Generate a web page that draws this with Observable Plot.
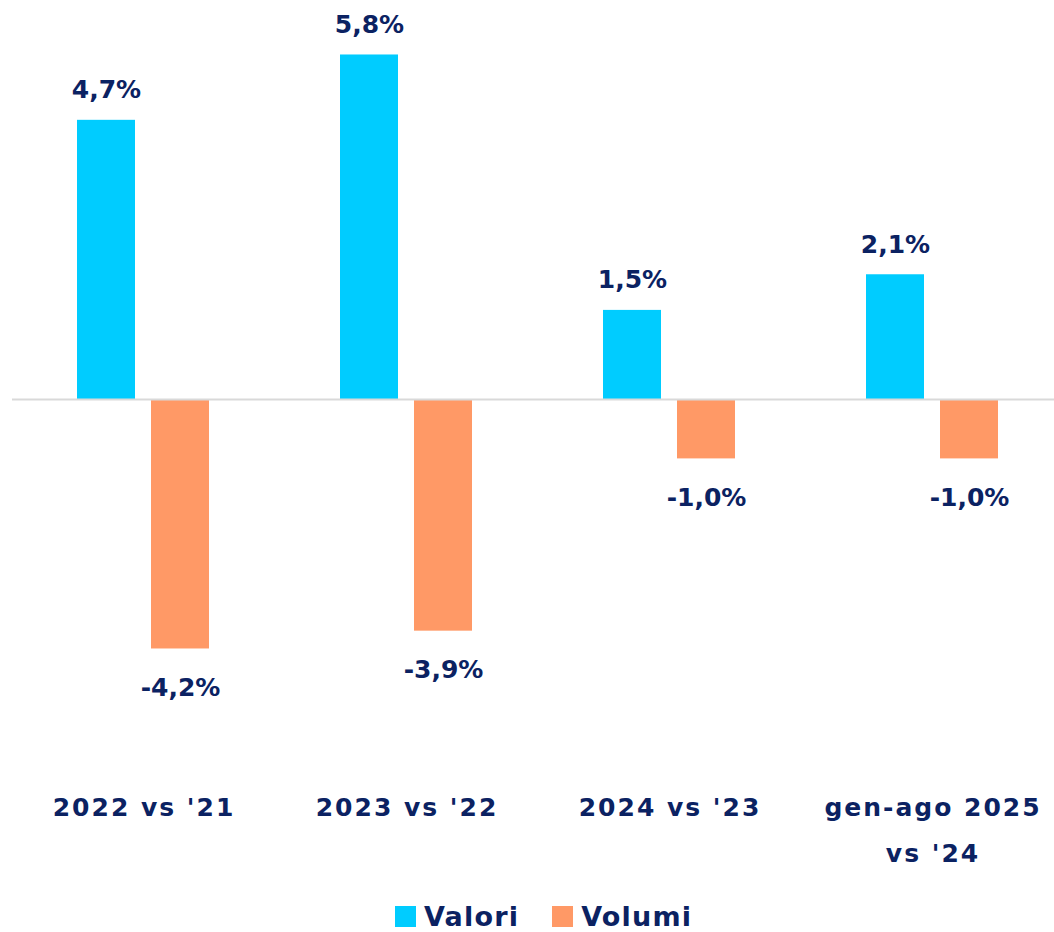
<!DOCTYPE html>
<html>
<head>
<meta charset="utf-8">
<script src="https://cdn.jsdelivr.net/npm/d3@7"></script>
<script src="https://cdn.jsdelivr.net/npm/@observablehq/plot@0.6"></script>
<style>
  html, body { margin: 0; padding: 0; background: #ffffff; }
  #chart svg { display: block; }
  #legend { padding-left: 395px; margin-top: 20px; }
  .lg-swatches { font-family: "DejaVu Sans", sans-serif !important; font-weight: bold; font-size: 27px !important; color: #0b2262 !important; min-height: 33px; letter-spacing: 1.2px; }
  .lg-swatch { margin-right: 33px !important; }
  .lg-swatch > svg { margin-right: 8px !important; }
</style>
</head>
<body>
<div id="chart"></div>
<div id="legend"></div>
<script>
const categories = ["2022 vs '21", "2023 vs '22", "2024 vs '23", "gen-ago 2025\nvs '24"];
const series = ["Valori", "Volumi"];
const valori = [4.7, 5.8, 1.5, 2.1];
const volumi = [-4.2, -3.9, -1.0, -1.0];
const colors = ["#00ccff", "#ff9966"];
const textColor = "#0b2262";

const rows = categories.flatMap((c, i) => [
  {cat: c, series: series[0], value: valori[i]},
  {cat: c, series: series[1], value: volumi[i]}
]);
const fmt = v => v.toFixed(1).replace(".", ",") + "%";

const chart = Plot.plot({
  width: 1054,
  height: 880,
  marginTop: 42.6,
  marginBottom: 124.6,
  marginLeft: 12,
  marginRight: 0,
  style: {fontFamily: "DejaVu Sans, sans-serif", background: "#ffffff"},
  fx: {domain: categories, range: [12, 1064], paddingInner: 0, paddingOuter: 0, axis: null},
  x: {domain: series, paddingInner: 0.2162, paddingOuter: 0.8851, axis: null},
  y: {domain: [-6, 6], axis: null},
  color: {domain: series, range: colors},
  marks: [
    Plot.barY(rows, {fx: "cat", x: "series", y: "value", fill: "series"}),
    Plot.ruleY([0], {stroke: "#d9d9d9", strokeWidth: 2}),
    Plot.text(rows.filter(d => d.value >= 0), {
      fx: "cat", x: "series", y: "value", text: d => fmt(d.value),
      lineAnchor: "bottom", dy: -22, fontSize: 25, fontWeight: "bold", fill: textColor
    }),
    Plot.text(rows.filter(d => d.value < 0), {
      fx: "cat", x: "series", y: "value", text: d => fmt(d.value),
      lineAnchor: "top", dy: 29, fontSize: 25, fontWeight: "bold", fill: textColor
    }),
    Plot.text(categories, {
      fx: d => d, text: d => d, frameAnchor: "bottom", lineAnchor: "top",
      dy: 27, lineHeight: 1.85, fontSize: 25, fontWeight: "bold", fill: textColor
    })
  ]
});
// widen the category labels slightly (letter spacing) to match the reference
chart.querySelectorAll("text").forEach(t => {
  if (!t.textContent.includes("%")) t.style.letterSpacing = "2px";
});
document.getElementById("chart").append(chart);

const legend = Plot.legend({
  color: {domain: series, range: colors},
  swatchSize: 21,
  className: "lg"
});
document.getElementById("legend").append(legend);
</script>
</body>
</html>
